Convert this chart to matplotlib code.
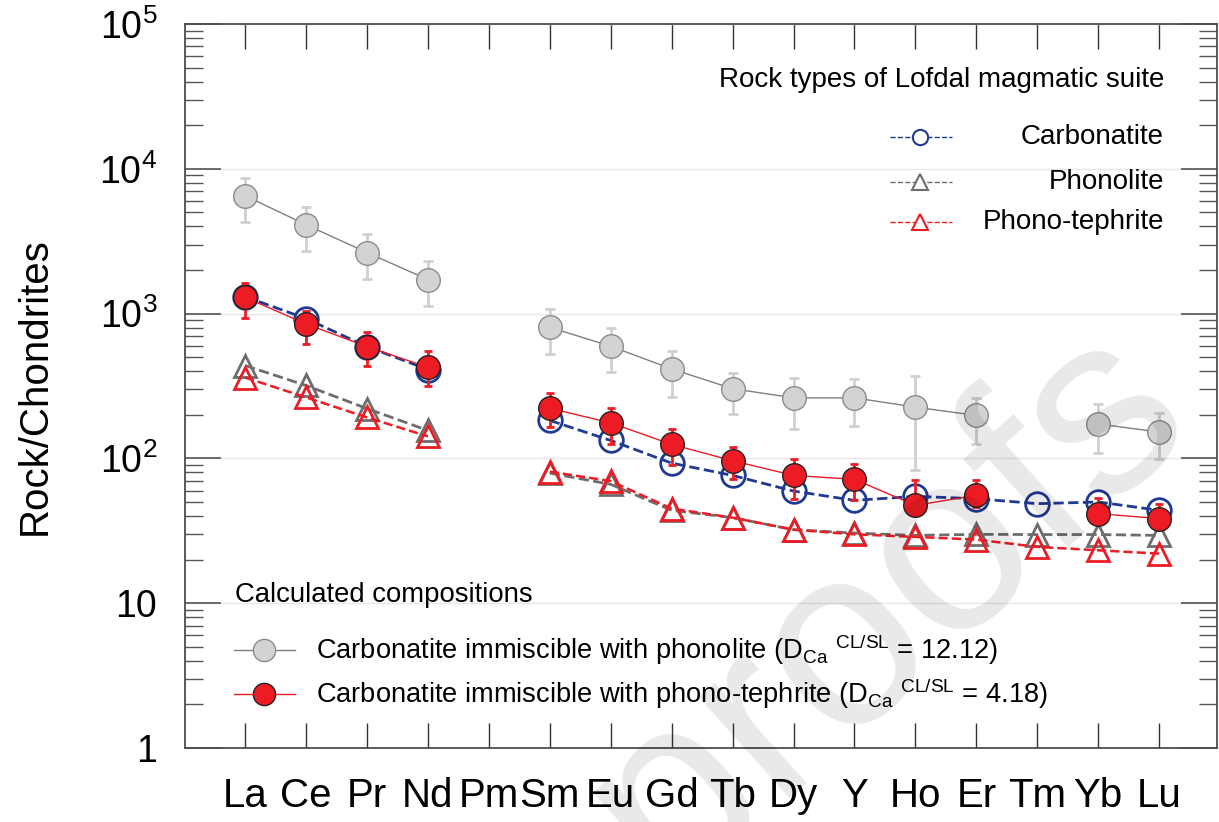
import numpy as np
import matplotlib

matplotlib.use("Agg")
import matplotlib.pyplot as plt
from matplotlib.ticker import FixedLocator, FixedFormatter, LogLocator, NullFormatter

plt.rcParams["font.family"] = ["Liberation Sans", "DejaVu Sans"]
plt.rcParams["mathtext.fontset"] = "custom"
plt.rcParams["mathtext.rm"] = "Liberation Sans"

nan = np.nan

ELEMENTS = ["La", "Ce", "Pr", "Nd", "Pm", "Sm", "Eu", "Gd", "Tb", "Dy", "Y", "Ho", "Er", "Tm", "Yb", "Lu"]

# calculated carbonatite, immiscible with phonolite (D = 12.12)
calc_phonolite = [6520, 4110, 2640, 1720, nan, 805, 595, 415, 303, 262, 262, 226, 198, nan, 173, 152]
calc_phonolite_hi = [8670, 5470, 3560, 2320, nan, 1077, 792, 556, 390, 358, 351, 368, 262, nan, 236, 207]
calc_phonolite_lo = [4310, 2720, 1743, 1135, nan, 527, 394, 265, 203, 160, 167, 83, 126, nan, 109, 99.5]

# calculated carbonatite, immiscible with phono-tephrite (D = 4.18)
calc_tephrite = [1295, 849, 592, 426, nan, 222, 176, 125, 96.4, 76.3, 71.7, 47.4, 55.6, nan, 41.6, 38.4]
calc_tephrite_hi = [1636, 1050, 751, 550, nan, 284, 224, 160, 120, 98.4, 91.9, 70.5, 71.3, nan, 53, 48.2]
calc_tephrite_lo = [938, 621, 434, 314, nan, 164, 126, 90.5, 71.6, 52.7, 51.3, 40.4, 46.2, nan, 35.6, 35.6]

# measured rock types
carbonatite = [1310, 924, 592, 411, nan, 183, 133, 92.8, 76.3, 59.5, 51.3, 54.7, 52.7, 48.7, 50, 43.8]
phonolite = [438, 319, 221, 156, nan, 79.2, 66.2, 43.8, 39, 32.2, 30.5, 29.4, 29.9, 29.8, 29.8, 29.4]
phono_tephrite = [362, 264, 192, 142, nan, 81, 69.7, 45, 39, 32.2, 29.9, 28.7, 27.5, 24.5, 23.2, 22]

Y_TICKS = [1, 10, 100, 1000, 10000, 100000]
Y_TICK_LABELS = ["1", "10", r"$\mathregular{10^{2}}$", r"$\mathregular{10^{3}}$",
                 r"$\mathregular{10^{4}}$", r"$\mathregular{10^{5}}$"]

BLUE = "#1f3a93"
RED = "#ed1c24"
DGRAY = "#6d6d6d"
LGRAY = "#d1d3d4"
NARROW = ["Liberation Sans Narrow", "Liberation Sans"]

x = np.arange(len(ELEMENTS))

fig = plt.figure(figsize=(12.19, 8.22), dpi=100)
ax = fig.add_axes([0.1518, 0.09, 0.8466, 0.8808])

# calculated: phonolite pair
cp = np.array(calc_phonolite)
ax.errorbar(x, cp, yerr=[cp - np.array(calc_phonolite_lo), np.array(calc_phonolite_hi) - cp],
            fmt="none", ecolor="#d0d0d0", elinewidth=2, capsize=3.5, capthick=2, zorder=2)
ax.plot(x, cp, "-", color="#808080", lw=1, marker="o", ms=17, mfc=LGRAY, mec="#8c8c8c", mew=1, zorder=3)

# measured rocks
ax.plot(x, phonolite, "--", color=DGRAY, lw=2, marker="^", ms=16.5, mfc="none", mec=DGRAY, mew=2, zorder=4)
ax.plot(x, phono_tephrite, "--", color=RED, lw=1.8, marker="^", ms=16.5, mfc="none", mec=RED, mew=2, zorder=5)
ax.plot(x, carbonatite, "--", color=BLUE, lw=2, marker="o", ms=17, mfc="none", mec=BLUE, mew=2, zorder=6)

# calculated: phono-tephrite pair
ct = np.array(calc_tephrite)
ax.plot(x, ct, "-", color=RED, lw=1, zorder=7)
ax.errorbar(x, ct, yerr=[ct - np.array(calc_tephrite_lo), np.array(calc_tephrite_hi) - ct],
            fmt="none", ecolor=RED, elinewidth=2, capsize=3, capthick=2, zorder=8)
ax.plot(x, ct, "none", marker="o", ms=17, mfc=RED, mec="#222222", mew=1, zorder=9)

ax.set_yscale("log")
ax.set_ylim(1, 1e5)
ax.set_xlim(-0.985, 15.95)
ax.set_xticks(x)
ax.set_xticklabels(ELEMENTS, fontsize=29)
ax.yaxis.set_major_locator(FixedLocator(Y_TICKS))
ax.yaxis.set_major_formatter(FixedFormatter(Y_TICK_LABELS))
ax.yaxis.set_minor_locator(LogLocator(base=10, subs=np.arange(2, 10), numticks=20))
ax.yaxis.set_minor_formatter(NullFormatter())
ax.tick_params(axis="x", which="major", direction="in", length=18, width=1, color="#333333",
               top=True, bottom=True, pad=21)
ax.tick_params(axis="y", which="major", direction="in", length=26, width=1.2, color="#555555",
               left=True, right=True, labelsize=27, pad=20)
ax.tick_params(axis="y", which="minor", direction="in", length=13, width=1, color="#555555",
               left=True, right=True)
ax.grid(axis="y", which="major", color="#e6e6e6", lw=1, zorder=0)
ax.set_axisbelow(True)
for sp in ax.spines.values():
    sp.set_color("#4d4d4d")
    sp.set_linewidth(1.3)
ax.set_ylabel("Rock/Chondrites", fontsize=29)
ax.yaxis.set_label_coords(-0.127, 0.5)

# legend: measured rock types (top right)
ax.text(0.9486, 0.9227, "Rock types of Lofdal magmatic suite", transform=ax.transAxes,
        ha="right", va="center", fontsize=20)
rock_legend = [
    ("Carbonatite", BLUE, "o", 0.844),
    ("Phonolite", DGRAY, "^", 0.782),
    ("Phono-tephrite", RED, "^", 0.7265),
]
for label, col, mk, yy in rock_legend:
    ax.plot([0.683, 0.743], [yy, yy], "--", color=col, lw=1, transform=ax.transAxes, clip_on=False, zorder=10)
    ax.plot([0.7125], [yy], mk, ms=11, mfc="white", mec=col, mew=1.5, transform=ax.transAxes, zorder=11)
    ax.text(0.9486, yy, label, transform=ax.transAxes, ha="right", va="center", fontsize=20)

# legend: calculated compositions (bottom left)
ax.text(0.0484, 0.2113, "Calculated compositions", transform=ax.transAxes,
        ha="left", va="center", fontsize=19.8, family=NARROW)
calc_legend = [
    (r"Carbonatite immiscible with phonolite (D$\mathregular{_{Ca}}$ $\mathregular{^{CL/SL}}$ = 12.12)",
     "#808080", LGRAY, "#8c8c8c", 0.1354),
    (r"Carbonatite immiscible with phono-tephrite (D$\mathregular{_{Ca}}$ $\mathregular{^{CL/SL}}$ = 4.18)",
     RED, RED, "#222222", 0.0746),
]
for label, lc, fc, ec, yy in calc_legend:
    ax.plot([0.0475, 0.1066], [yy, yy], "-", color=lc, lw=1, transform=ax.transAxes, zorder=10)
    ax.plot([0.0766], [yy], "o", ms=16, mfc=fc, mec=ec, mew=1, transform=ax.transAxes, zorder=11)
    ax.text(0.127, yy, label, transform=ax.transAxes, ha="left", va="center", fontsize=19.6, family=NARROW)

# watermark
fig.text(0.98, 0.495, "Pre-proofs", ha="right", va="baseline", rotation=42, rotation_mode="anchor",
         fontsize=184, color="black", alpha=0.09, zorder=20)

fig.savefig("out.png", dpi=100)
